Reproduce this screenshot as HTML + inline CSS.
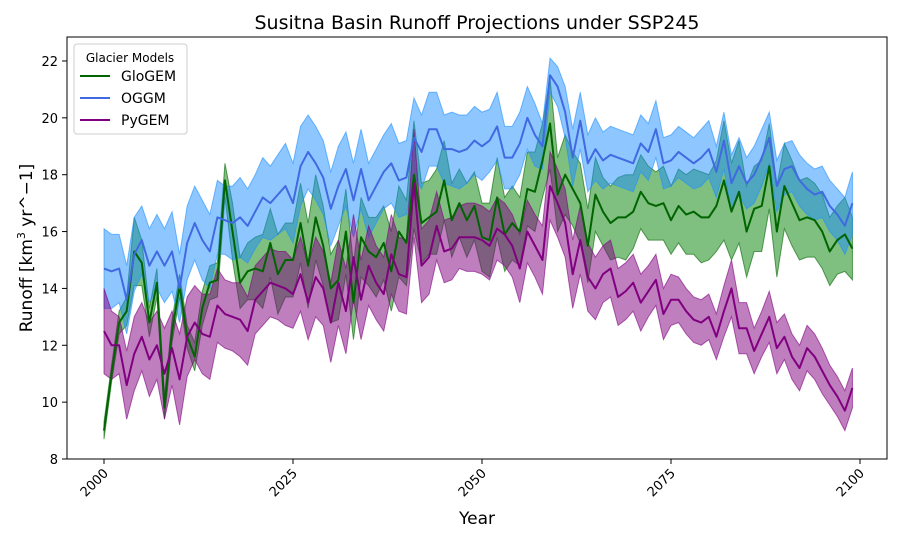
<!DOCTYPE html>
<html><head><meta charset="utf-8"><style>
body{margin:0;background:#fff}
svg text{font-family:"DejaVu Sans","Liberation Sans",sans-serif}
</style></head><body>
<svg id="chart" width="900" height="540" viewBox="0 0 900 540" xmlns="http://www.w3.org/2000/svg">
<text x="477" y="29" text-anchor="middle" font-size="19">Susitna Basin Runoff Projections under SSP245</text>
<g id="bands"></g>
<g id="lines"></g>
<rect x="67" y="37" width="820" height="422" fill="none" stroke="#000" stroke-width="1"/>
<g id="xticks"></g>
<g id="yticks"></g>
<text x="477" y="524" text-anchor="middle" font-size="17">Year</text>
<text transform="translate(32,248) rotate(-90)" text-anchor="middle" font-size="17">Runoff [km<tspan font-size="11" dy="-7">3</tspan><tspan dy="7"> yr^−1]</tspan></text>
<g>
<rect x="74" y="44" width="113" height="90" rx="3" fill="#fff" fill-opacity="0.8" stroke="#ccc"/>
<text x="130" y="62" text-anchor="middle" font-size="12">Glacier Models</text>
<line x1="80" y1="76" x2="110" y2="76" stroke="#006400" stroke-width="2"/>
<text x="121" y="81" font-size="14">GloGEM</text>
<line x1="80" y1="98" x2="110" y2="98" stroke="#4169e1" stroke-width="2"/>
<text x="121" y="103" font-size="14">OGGM</text>
<line x1="80" y1="120" x2="110" y2="120" stroke="#800080" stroke-width="2"/>
<text x="121" y="125" font-size="14">PyGEM</text>
</g>
</svg>
<script>
const startYear = 2000;
const xTicks = [2000, 2025, 2050, 2075, 2100];
const yTicks = [8, 10, 12, 14, 16, 18, 20, 22];
const glogemMean = [9.0,11.0,12.8,13.2,15.3,14.9,12.8,14.2,9.8,12.5,14.1,12.3,11.6,13.3,14.2,14.3,17.8,16.0,14.2,14.6,14.7,14.6,15.6,14.5,15.0,15.0,16.3,14.8,16.5,15.5,14.0,14.3,16.0,13.5,15.8,15.3,15.1,15.6,14.6,16.0,15.6,18.0,16.3,16.5,16.7,17.8,16.4,17.0,16.4,16.9,15.8,15.7,17.2,15.9,16.3,16.0,17.5,17.4,18.5,19.8,17.3,18.0,17.5,17.0,15.5,17.3,16.7,16.3,16.5,16.5,16.7,17.4,17.0,16.9,17.0,16.4,16.9,16.6,16.7,16.5,16.5,16.9,17.8,16.7,17.4,16.0,16.8,16.9,18.3,16.0,17.6,17.0,16.4,16.5,16.4,16.0,15.3,15.7,15.9,15.4];
const glogemSpread = [0.3,0.3,0.4,0.5,1.2,0.8,0.5,0.5,0.4,0.4,0.4,0.4,0.5,0.6,0.6,0.6,0.6,1.0,0.9,1.0,1.1,1.3,1.2,1.4,1.3,1.3,1.4,1.5,1.5,1.4,1.2,1.4,1.5,1.3,1.4,1.2,1.4,1.3,1.4,1.6,1.5,1.9,1.4,1.3,1.5,1.4,1.3,1.2,1.3,1.2,1.2,1.3,1.4,1.3,1.3,1.2,1.3,1.4,1.3,1.6,1.3,1.4,1.3,1.4,1.3,1.3,1.2,1.3,1.4,1.5,1.3,1.3,1.3,1.2,1.3,1.2,1.3,1.4,1.5,1.6,1.5,1.6,2.1,1.7,1.8,1.6,1.5,1.6,1.5,1.6,1.5,1.5,1.4,1.4,1.3,1.3,1.2,1.2,1.3,1.1];
const oggmMean = [14.7,14.6,14.7,13.6,15.2,15.7,14.8,15.3,14.8,15.3,14.0,15.6,16.3,15.7,15.3,16.5,16.4,16.3,16.5,16.2,16.7,17.2,17.0,17.3,17.6,17.0,18.3,18.8,18.4,17.9,16.8,17.6,18.2,17.1,18.2,17.1,17.6,18.1,18.4,17.8,17.9,19.3,18.8,19.6,19.6,18.9,18.9,18.8,18.9,19.2,19.0,19.2,19.7,18.6,18.6,19.1,20.0,19.4,19.0,21.5,21.1,20.2,18.6,19.9,18.4,18.9,18.5,18.7,18.6,18.5,18.4,19.1,18.8,19.6,18.4,18.5,18.8,18.6,18.4,18.6,18.9,18.1,19.2,17.7,18.3,17.7,18.0,18.6,19.3,17.6,18.2,18.3,17.8,17.5,17.3,17.4,16.9,16.6,16.2,17.0];
const oggmSpread = [1.4,1.3,1.2,1.2,1.3,1.2,1.3,1.3,1.3,1.4,1.2,1.3,1.3,1.4,1.3,1.3,1.2,1.3,1.4,1.3,1.3,1.4,1.3,1.4,1.5,1.4,1.4,1.3,1.3,1.3,1.3,1.4,1.3,1.3,1.4,1.3,1.3,1.3,1.4,1.3,1.3,1.4,1.3,1.3,1.3,1.2,1.3,1.3,1.2,1.2,1.2,1.1,1.2,1.1,1.1,1.1,1.1,1.1,0.8,0.6,0.7,0.9,1.0,1.0,1.0,1.1,1.0,1.0,1.0,1.0,1.0,1.0,1.0,1.0,0.9,0.9,0.9,0.9,0.9,1.0,1.0,0.9,1.0,1.0,1.0,0.9,1.0,1.0,0.9,0.9,0.9,0.9,0.9,0.9,0.9,0.9,0.9,0.9,1.0,1.1];
const pygemMean = [12.5,12.0,12.0,10.6,11.7,12.3,11.5,12.0,11.0,11.9,10.8,12.3,12.8,12.4,12.3,13.4,13.1,13.0,12.9,12.5,13.6,13.9,14.2,14.1,14.0,13.8,14.5,13.5,14.4,14.0,12.8,14.2,13.2,15.1,13.6,14.8,14.2,13.8,15.2,14.5,14.4,17.7,14.8,15.1,16.2,15.3,15.4,15.8,15.8,15.8,15.7,15.5,16.1,15.9,15.5,14.7,16.0,15.5,15.0,17.6,17.0,16.3,14.5,15.7,14.4,14.0,14.5,14.7,13.7,13.9,14.2,13.5,13.9,14.3,13.1,13.6,13.6,13.2,12.9,12.8,13.0,12.3,13.2,14.0,12.6,12.6,11.8,12.4,13.0,11.9,12.3,11.6,11.2,11.9,11.6,11.1,10.6,10.2,9.7,10.5];
const pygemSpread = [1.5,1.2,1.0,1.2,1.3,1.2,1.3,1.2,1.6,1.3,1.6,1.4,1.3,1.4,1.5,1.3,1.2,1.2,1.3,1.2,1.2,1.2,1.2,1.2,1.3,1.2,1.3,1.3,1.4,1.3,1.4,1.5,1.5,1.5,1.4,1.4,1.3,1.3,1.4,1.3,1.3,1.9,1.3,1.3,1.2,1.1,1.1,1.1,1.2,1.2,1.2,1.2,1.1,1.1,1.1,1.2,1.1,1.1,1.2,1.2,1.2,1.2,1.2,1.2,1.2,1.1,1.0,1.0,1.0,1.0,1.0,1.0,0.9,0.9,0.9,0.9,0.8,0.8,0.8,0.8,0.8,0.8,0.9,1.0,0.9,0.9,0.8,0.8,0.9,0.9,0.8,0.8,0.8,0.8,0.8,0.8,0.7,0.7,0.7,0.7];

const NS='http://www.w3.org/2000/svg';
function xScale(yr){return 104 + (yr-2000)*7.56;}
function yScale(v){return 459 - (v-8)*28.43;}
function mk(tag,attrs,parent){const e=document.createElementNS(NS,tag);for(const k in attrs)e.setAttribute(k,attrs[k]);parent.appendChild(e);return e;}

const bands=document.getElementById('bands'), lines=document.getElementById('lines');
const series=[
 {name:'glogem',mean:glogemMean,spread:glogemSpread,fill:'#008000',edge:'#006400',line:'#006400'},
 {name:'oggm',mean:oggmMean,spread:oggmSpread,fill:'#1e90ff',edge:'#1e90ff',line:'#4169e1'},
 {name:'pygem',mean:pygemMean,spread:pygemSpread,fill:'#800080',edge:'#800080',line:'#800080'}
];
series.forEach(s=>{
  const up=s.mean.map((m,i)=>xScale(startYear+i)+','+yScale(m+s.spread[i]));
  const lo=s.mean.map((m,i)=>xScale(startYear+i)+','+yScale(m-s.spread[i])).reverse();
  const p=mk('polygon',{points:up.concat(lo).join(' '),fill:s.fill,'fill-opacity':0.5,stroke:s.edge,'stroke-opacity':0.6,'stroke-width':1},bands);
  
  
});
series.forEach(s=>{
  const pts=s.mean.map((m,i)=>xScale(startYear+i)+','+yScale(m)).join(' ');
  const l=mk('polyline',{points:pts,fill:'none',stroke:s.line,'stroke-width':2,'stroke-linejoin':'round'},lines);
  
  
});
const xg=document.getElementById('xticks');
xTicks.forEach(t=>{
  const x=xScale(t);
  const tk=mk('line',{x1:x,y1:459,x2:x,y2:464,stroke:'#000'},xg);
  
  
  const tx=mk('text',{x:x+5,y:474,'font-size':13,'text-anchor':'end',transform:'rotate(-45 '+(x+5)+' 474)'},xg);
  tx.textContent=t;
  
  
});
const yg=document.getElementById('yticks');
yTicks.forEach(t=>{
  const y=yScale(t);
  const tk=mk('line',{x1:62,y1:y,x2:67,y2:y,stroke:'#000'},yg);
  
  
  const tx=mk('text',{x:58,y:y+5,'font-size':13,'text-anchor':'end'},yg);
  tx.textContent=t;
  
  
});
</script>
</body></html>
